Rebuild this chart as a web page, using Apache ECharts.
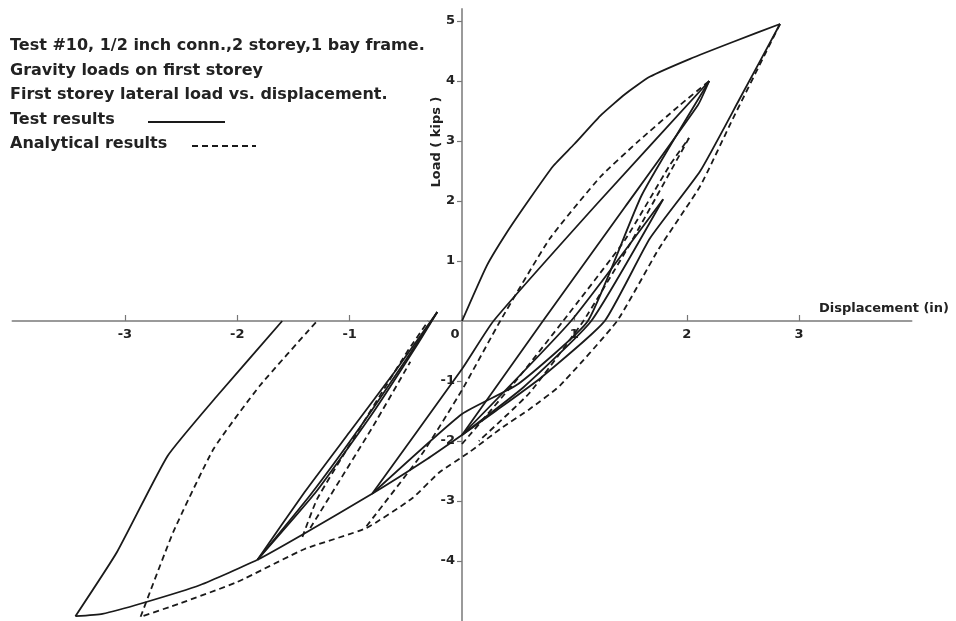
<!DOCTYPE html>
<html>
<head>
<meta charset="utf-8">
<script src="https://cdn.jsdelivr.net/npm/echarts@6/dist/echarts.min.js"></script>
<style>
html,body{margin:0;padding:0;background:#fff;}
#chart{width:956px;height:621px;}
</style>
</head>
<body>
<div id="chart"></div>
<script>
// ---- Tick labels ----
const xTicks = [-3, -2, -1, 0, 1, 2, 3];
const yTicks = [-4, -3, -2, -1, 1, 2, 3, 4, 5];

// ---- Test results (solid) : [displacement (in), load (kips)] ----
const testOuterLoad = [[0,0],[0.22,0.92],[0.4,1.48],[0.6,2.03],[0.81,2.58],[1.0,2.95],[1.23,3.42],[1.45,3.78],[1.67,4.07],[2.03,4.37],[2.41,4.65],[2.83,4.95]];
const testUnload5 = [[2.83,4.95],[2.47,3.7],[2.12,2.5],[1.67,1.37],[1.27,0],[0.7,-0.95],[0.3,-1.5],[0,-1.9]];
const testLowerEnv = [[0,-1.9],[-0.31,-2.3],[-0.8,-2.88],[-1.41,-3.55],[-1.82,-3.98],[-2.33,-4.4],[-2.84,-4.7],[-3.2,-4.88],[-3.44,-4.92]];
const testLeftReload = [[-3.44,-4.92],[-3.07,-3.85],[-2.62,-2.25],[-2.18,-1.25],[-1.6,0]];
const testLoop4Up = [[-0.8,-2.88],[0,-0.8],[0.28,0],[1.2,1.95],[2.2,4.0]];
const testLoop4Down = [[2.2,4.0],[1.6,2.1],[1.12,0],[0.5,-1.05],[0,-1.55],[-0.8,-2.88]];
const testReload3 = [[0,-1.9],[0.72,0],[1.45,1.9],[2.1,3.6],[2.2,4.0]];
const testLoop2Up = [[0,-1.9],[0.97,0],[1.79,2.03]];
const testLoop2Down = [[1.79,2.03],[1.15,0],[0.55,-1.1],[0,-1.9]];
const testLeftA = [[-1.82,-3.98],[-1.4,-2.85],[-1.0,-1.85],[-0.6,-0.85],[-0.22,0.15]];
const testLeftB = [[-1.82,-3.98],[-1.3,-2.85],[-0.8,-1.55],[-0.4,-0.4],[-0.22,0.15]];
const testLeftC = [[-1.82,-3.98],[-1.35,-2.9],[-0.9,-1.75],[-0.5,-0.65],[-0.22,0.15]];

// ---- Analytical results (dashed) ----
const anaUnload5 = [[2.83,4.95],[2.41,3.37],[2.12,2.25],[1.75,1.2],[1.38,0],[0.87,-1.08],[0.6,-1.47],[0.34,-1.8],[0.07,-2.18],[-0.2,-2.52],[-0.44,-2.95],[-0.85,-3.45],[-1.4,-3.8],[-2.0,-4.35],[-2.5,-4.7],[-2.86,-4.93]];
const anaLeftReload = [[-2.86,-4.93],[-2.57,-3.52],[-2.21,-2.13],[-1.8,-1.08],[-1.29,0]];
const anaLoop4Up = [[-0.85,-3.42],[-0.35,-2.2],[0,-1.15],[0.34,0],[0.78,1.37],[1.23,2.4],[1.56,2.98],[1.94,3.6],[2.2,4.0]];
const anaLeft1 = [[-1.42,-3.6],[-1.29,-2.97],[-0.93,-1.85],[-0.49,-0.52],[-0.3,0.0]];
const anaLeft2 = [[-1.35,-3.45],[-0.79,-1.75],[-0.46,-0.68]];
const anaLoop3Up = [[0,-2.05],[0.5,-0.95],[0.9,0],[1.45,1.35],[1.85,2.6],[2.02,3.05]];
const anaLoop3Down = [[2.02,3.05],[1.5,1.3],[1.08,0],[0.6,-1.2],[0.15,-2.0]];

const solidSets = [testOuterLoad, testUnload5, testLowerEnv, testLeftReload, testLoop4Up, testLoop4Down, testReload3, testLoop2Up, testLoop2Down, testLeftA, testLeftB, testLeftC];
const dashedSets = [anaUnload5, anaLeftReload, anaLoop4Up, anaLeft1, anaLeft2, anaLoop3Up, anaLoop3Down];

const ink = '#1a1a1a';
const font = 'DejaVu Sans';
const series = [];
solidSets.forEach(d => series.push({type:'line', xAxisIndex:0, yAxisIndex:0, data:d, showSymbol:false, smooth:0.15, clip:false, silent:true,
  lineStyle:{color:ink, width:1.8}}));
dashedSets.forEach(d => series.push({type:'line', xAxisIndex:0, yAxisIndex:0, data:d, showSymbol:false, smooth:0.15, clip:false, silent:true,
  lineStyle:{color:ink, width:1.8, type:[6,4]}}));

// Layout: plot area spans x -4..4 and y -5..5.2; axes drawn through the origin
const X_MIN = -4, X_MAX = 4, Y_MIN = -5, Y_MAX = 5.2;
const G_LEFT = 12.5, G_TOP = 9, G_W = 899, G_H = 612;
const zeroX = G_LEFT + G_W * (0 - X_MIN) / (X_MAX - X_MIN);
const zeroY = G_TOP + G_H * (Y_MAX - 0) / (Y_MAX - Y_MIN);

const noteLines = [
  'Test #10, 1/2 inch conn.,2 storey,1 bay frame.',
  'Gravity loads on first storey',
  'First storey lateral load vs. displacement.',
  'Test results',
  'Analytical results'
];
const graphic = noteLines.map((t,i) => ({type:'text', left:10, top:38 + i*24.5,
  style:{text:t, fill:'#222', font:'bold 16px "' + font + '"'}}));
graphic.push({type:'line', shape:{x1:148,y1:122,x2:225,y2:122}, style:{stroke:ink, lineWidth:1.8}});
graphic.push({type:'line', shape:{x1:192,y1:146,x2:256,y2:146}, style:{stroke:ink, lineWidth:1.8, lineDash:[6,4]}});
graphic.push({type:'text', x:437, y:142, rotation:Math.PI/2, style:{text:'Load ( kips )', fill:'#222', font:'bold 13px "' + font + '"', textAlign:'center', textVerticalAlign:'middle'}});
graphic.push({type:'text', left:819, top:302, style:{text:'Displacement (in)', fill:'#222', font:'bold 13px "' + font + '"'}});

const axisLineStyle = {color:'#9a9a9a', width:2};
const labelBase = {color:'#222', fontSize:13, fontWeight:'bold', fontFamily:font};

const chart = echarts.init(document.getElementById('chart'));
chart.setOption({
  animation:false,
  backgroundColor:'#fff',
  grid:[
    {left:G_LEFT, top:G_TOP, width:G_W, height:G_H, outerBoundsMode:'none', containLabel:false},
    {left:G_LEFT, top:G_TOP, width:G_W, height:zeroY - G_TOP, outerBoundsMode:'none', containLabel:false},
    {left:zeroX, top:G_TOP, width:G_LEFT + G_W - zeroX, height:G_H, outerBoundsMode:'none', containLabel:false}
  ],
  xAxis:[
    {gridIndex:0, type:'value', min:X_MIN, max:X_MAX, show:false},
    {gridIndex:1, type:'value', min:X_MIN, max:X_MAX, interval:1, position:'bottom',
      axisLine:{show:true, onZero:false, lineStyle:axisLineStyle},
      axisTick:{show:true, inside:true, length:6, customValues:xTicks, lineStyle:{color:'#777', width:1.2}},
      axisLabel:Object.assign({margin:7, customValues:xTicks,
        formatter: v => v === 0 ? '{z|0}' : String(v),
        rich:{z:{padding:[0,14,0,0], fontSize:13, fontWeight:'bold', color:'#222', fontFamily:font}}}, labelBase),
      splitLine:{show:false}},
    {gridIndex:2, type:'value', min:0, max:X_MAX, show:false}
  ],
  yAxis:[
    {gridIndex:0, type:'value', min:Y_MIN, max:Y_MAX, show:false},
    {gridIndex:1, type:'value', min:0, max:Y_MAX, show:false},
    {gridIndex:2, type:'value', min:Y_MIN, max:Y_MAX, interval:1, position:'left',
      axisLine:{show:true, onZero:false, lineStyle:axisLineStyle},
      axisTick:{show:true, length:5, customValues:yTicks, lineStyle:{color:'#777', width:1.2}},
      axisLabel:Object.assign({margin:7, customValues:yTicks,
        formatter: v => String(v)}, labelBase),
      splitLine:{show:false}}
  ],
  graphic: graphic,
  series: series
});
</script>
</body>
</html>
